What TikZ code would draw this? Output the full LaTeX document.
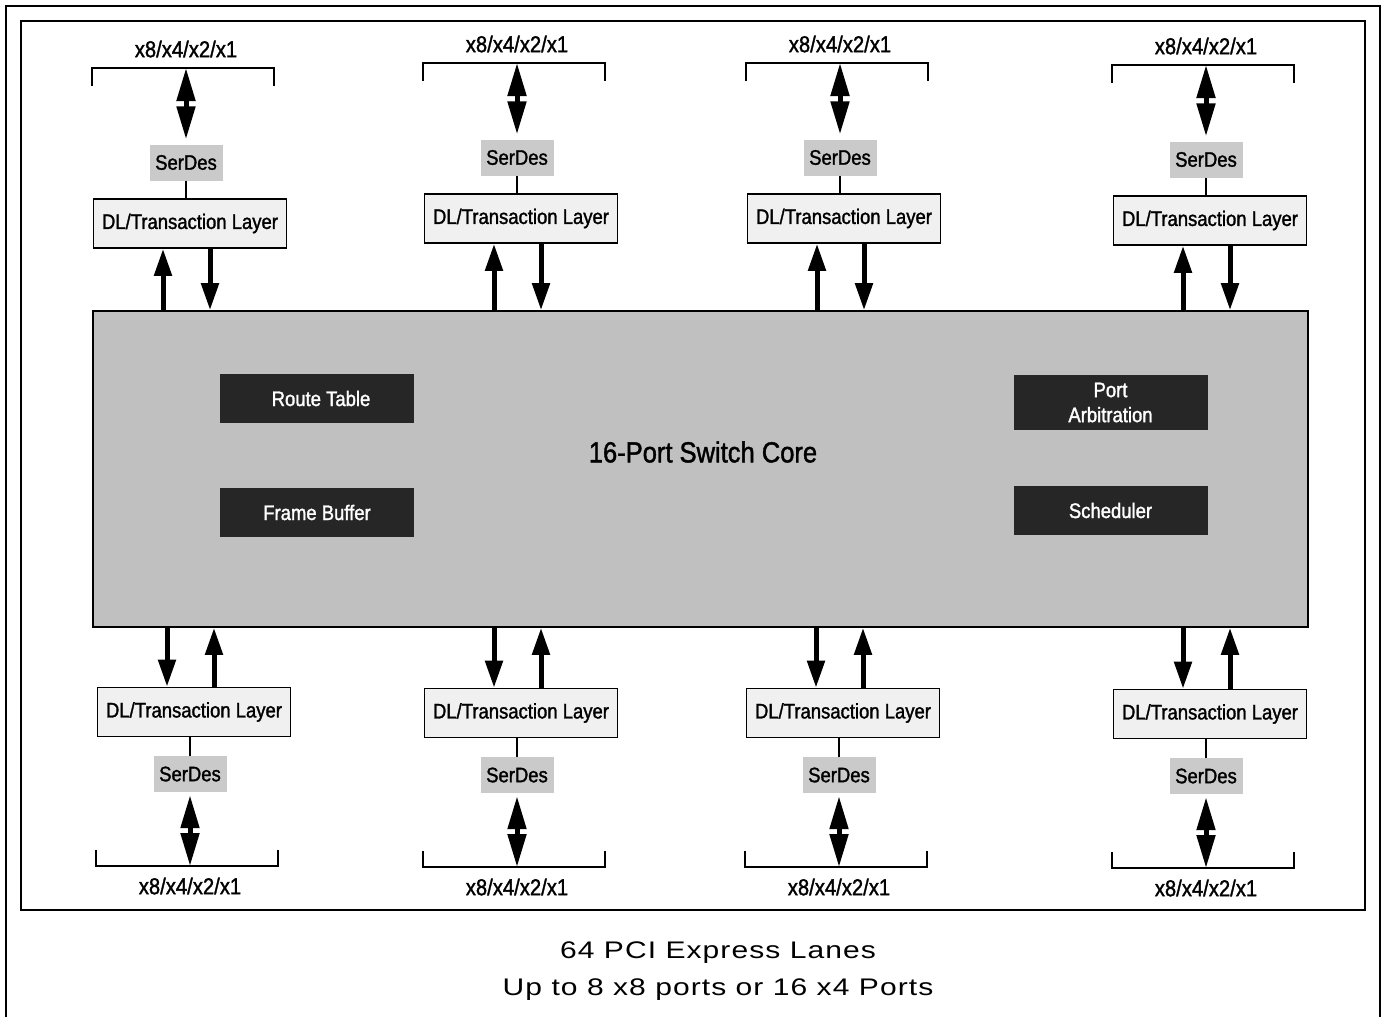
\documentclass[tikz,border=0pt]{standalone}
\usepackage{fontspec}
\usetikzlibrary{arrows.meta}
\usetikzlibrary{positioning}
\newfontfamily\narrowsf[FakeStretch=0.88,FakeBold=1.4]{Liberation Sans}
\newfontfamily\capsf[FakeStretch=1.25,LetterSpace=4.5]{Liberation Sans}
\definecolor{coregray}{HTML}{C0C0C0}
\definecolor{serfill}{HTML}{CACACA}
\definecolor{dlfill}{HTML}{F0F0F0}
\definecolor{darkfill}{HTML}{262626}

\begin{document}
\begin{tikzpicture}[x=1pt,y=-1pt,
  every node/.style={font=\narrowsf\fontsize{21}{25}\selectfont,inner sep=0pt},
  wire/.style={line width=1.6pt},
  dlbox/.style={draw,wire,fill=dlfill,minimum width=193pt,minimum height=49pt},
  serdes/.style={fill=serfill,minimum width=73pt,minimum height=36pt},
  darkbox/.style={fill=darkfill,text=white,minimum width=194pt,minimum height=49pt,align=center},
  lanelbl/.style={font=\narrowsf\fontsize{23}{25}\selectfont},
  bus/.style={line width=5pt,-{Triangle[width=17pt,length=27pt]}},
  lane/.style={line width=5pt,{Triangle[width=18pt,length=33pt]}-{Triangle[width=18pt,length=33pt]}}]
\useasboundingbox (0,0) rectangle (1383,1017);
\draw[wire] (6,1017) |- (1380,6) -- (1380,1017);
\draw[wire] (21,21) rectangle (1365,910);

\node[draw,wire,fill=coregray,minimum width=1215pt,minimum height=316pt] (core) at (700.5,469) {};
\node[font=\narrowsf\fontsize{29}{31}\selectfont] (title) at (703,452) {16-Port Switch Core};
\node[darkbox] (route) at (317,398.5) {\hspace*{8pt}Route Table};
\node[darkbox] (frame) at (317,512.5) {Frame Buffer};
\node[darkbox,minimum height=55pt] (arb) at (1110.5,402.5) {Port\\Arbitration};
\node[darkbox] (sched) at (1110.5,510.5) {Scheduler};

\foreach \i/\c/\dy in {1/186/5,2/517/0,3/840/0,4/1206/2} {
  \node[dlbox] (dlt\i) at (\c+4,218.5+\dy) {DL/Transaction Layer};
  \node[serdes] (sdt\i) at (\c,157.5+\dy) {SerDes};
  \coordinate (brt\i) at (\c,63+\dy);
  \node[lanelbl] (lbt\i) at (\c,44+\dy) {x8/x4/x2/x1};
  \draw[wire] ([xshift=-94pt]brt\i) ++(0,18) -- ++(0,-18) -- ++(182,0) -- ++(0,18);
  \draw[wire] (sdt\i.south) -- (sdt\i.south |- dlt\i.north);
  \draw[lane] (brt\i) -- ([yshift=5pt]sdt\i.north);
  \draw[bus] ([xshift=-27pt]dlt\i.south |- core.north) -- ([xshift=-27pt]dlt\i.south);
  \draw[bus] ([xshift=20pt]dlt\i.south) -- ([xshift=20pt]dlt\i.south |- core.north);
}

\foreach \i/\c/\dy in {1/190/0,2/517/1,3/839/1,4/1206/2} {
  \node[dlbox] (dlb\i) at (\c+4,712+\dy) {DL/Transaction Layer};
  \node[serdes] (sdb\i) at (\c,774+\dy) {SerDes};
  \coordinate (brb\i) at (\c,866+\dy);
  \node[lanelbl] (lbb\i) at (\c,886+\dy) {x8/x4/x2/x1};
  \draw[wire] ([xshift=-94pt]brb\i) ++(0,-16) -- ++(0,16) -- ++(182,0) -- ++(0,-16);
  \draw[wire] (sdb\i.north) -- (sdb\i.north |- dlb\i.south);
  \draw[lane] ([yshift=-3pt]sdb\i.south) -- (brb\i);
  \draw[bus] ([xshift=-27pt]dlb\i.north |- core.south) -- ([xshift=-27pt]dlb\i.north);
  \draw[bus] ([xshift=20pt]dlb\i.north) -- ([xshift=20pt]dlb\i.north |- core.south);
}

\node[font=\capsf\fontsize{24}{37}\selectfont,align=center] (lanes) at (718,971) {64 PCI Express Lanes\\Up to 8 x8 ports or 16 x4 Ports};
\end{tikzpicture}
\end{document}
